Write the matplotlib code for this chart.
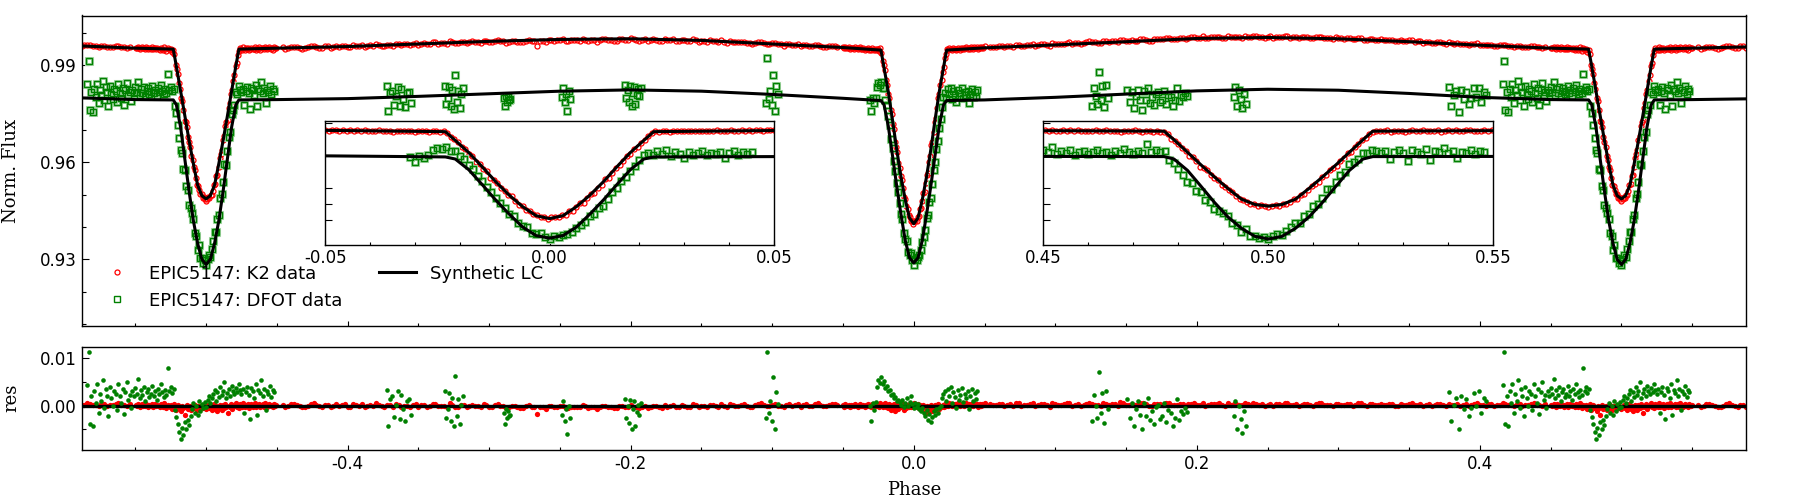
import numpy as np
import matplotlib
matplotlib.use("Agg")
import matplotlib.pyplot as plt
from matplotlib.ticker import MultipleLocator, FormatStrFormatter, NullFormatter, FixedLocator

plt.rcParams['axes.unicode_minus'] = False

# ---- synthetic light curves (one period, phase -0.5 .. 0.5) ----
# eclipse half-profiles, offset from eclipse centre
ecl_dx = [0.0, 0.003, 0.006, 0.009, 0.012, 0.015, 0.018, 0.021, 0.0232]
k2_pri = [0.9410, 0.9428, 0.9484, 0.9555, 0.9638, 0.9730, 0.9818, 0.9893, 0.9947]
k2_sec = [0.9487, 0.9497, 0.9530, 0.9596, 0.9667, 0.9742, 0.9820, 0.9897, 0.9950]
dfot_pri = [0.9289, 0.9305, 0.9358, 0.9438, 0.9525, 0.9620, 0.9712, 0.9778, 0.9791]
dfot_sec = [0.9284, 0.9300, 0.9350, 0.9420, 0.9510, 0.9610, 0.9708, 0.9778, 0.9793]

# out-of-eclipse part
ooe_phase = [-0.45, -0.40, -0.35, -0.30, -0.25, -0.20, -0.15, -0.10, -0.05,
             0.05, 0.10, 0.15, 0.20, 0.25, 0.30, 0.35, 0.40, 0.45]
k2_ooe = [0.9953, 0.9958, 0.9966, 0.9974, 0.9980, 0.9982, 0.9977, 0.9966, 0.9955,
          0.9954, 0.9963, 0.9973, 0.9983, 0.9986, 0.9982, 0.9973, 0.9962, 0.9953]
dfot_ooe = [0.9794, 0.9797, 0.9804, 0.9812, 0.9820, 0.9824, 0.9820, 0.9810, 0.9798,
            0.9793, 0.9801, 0.9811, 0.9821, 0.9826, 0.9823, 0.9813, 0.9801, 0.9794]

# ---- DFOT data: phase range of each night, residuals in units of 1e-4 ----
dfot_res_a = [-2, 12, 20, 6, 15,
              25, 34, 10, 28, 18, 40, 22, 30, 50, 15, 26, 35, 20, 42, 30, 24, 38, 28, 45, 32, 25,
              35, -15, 28, 40, 22, -28, 38, 30, 15, 45, -20, 32, 26, 55, 20, 36, -10, 30, 24, 42, 18, 34, 28]
dfot_res_b = [34, -43, 13, 20, -24, 2, 30, -29, 23, -8, -33, 10, 13, -19]
dfot_res_c = [30, -26, -8, 27, -33, 16, -43, 62, -21, 13, -40, 2, 20]
dfot_res_d = [-15, -40, -8, -27, -12, -22, -20]
dfot_res_e = [-19, 9, -33, -8, -61, 0, -26]
dfot_res_f = [14, -26, -1, -36, 11, -49, -8, 9, -43, -14, 2, -19, 6]
dfot_res_g = [-26, 113, -15, 9, -33, 60, -50, 28, 3]
dfot_res_h = [0, -33, 5, -10, 8,
              40, 55, 48, 60, 45, 52, 38, 42,
              30, 34, 22, 25, 15, 18, 10, 12,
              8, 2, 12, -3, 5, 15, 0, 8, 20, 4,
              -5, 6, -2, 3, -8, -12, -5,
              -15, -22, -10, -30, -18, -35, -25, -12, -20, -8, -15, -5, 0,
              15, 25, 30, 10, 35, 20, 40, 5, 28, 18, -5, 32, 12, 22, 38, 8, 25, 15, 30, -8,
              20, 35, 10, 26, 14, 30]
dfot_res_i = [-33, 23, -1, -26, 71, -15, 27, -36, 30, -8]
dfot_res_j = [13, -26, 5, -43, -8, 10, -19, -50, 6, -21, 16, -30, -12, -38, -4, 2, -28, -22, 5, -35,
              -9, -16, -44, -26, 13, -30, -12, -18, -5, -14]
dfot_res_k = [-22, 9, -50, -1, -29, -57, -12, -43]
dfot_res_l = [28, -33, 2, 16, -50, 20, -8, 13, -22, -5, 27, -1, 30, -15, 16, 9]
dfot_res_m = [44, 114, -38, 20, -43, 30, 5, 45, -15, 25,
              10, 55, -5, 35, 20, -22, 40, 15, 0, 30,
              25, -10, 45, 20, 5, 35, -18, 28, 50, 12, 22, -5,
              30, 20, 38, 25, 56, 15, 32, 22, 40, 10, 28, 35, 18,
              25, 42, 20, 30, 12, 36, 24, 45, 28, 18, 34, 22, 79, 30, 40, 26, 35,
              -10, -25, -40, -55, -71, -48, -62, -35, -50, -30, -42, -22,
              -8, 5, -15, 0, -20, 10, -12, 3, -5, 8]
dfot_nights = [(-0.500, -0.452, dfot_res_a), (-0.3725, -0.3555, dfot_res_b),
               (-0.3315, -0.3185, dfot_res_c), (-0.2895, -0.2850, dfot_res_d),
               (-0.2485, -0.2430, dfot_res_e), (-0.2040, -0.1930, dfot_res_f),
               (-0.1045, -0.0960, dfot_res_g), (-0.031, 0.045, dfot_res_h),
               (0.1260, 0.1370, dfot_res_i), (0.1510, 0.1930, dfot_res_j),
               (0.2260, 0.2345, dfot_res_k), (0.3780, 0.4045, dfot_res_l),
               (0.416, 0.499, dfot_res_m)]

# ---- K2 data: phase ranges, residuals in units of 1e-4 ----
k2_res_1 = [-8, -3, 2, -6, 1, -10, -4, 3, -7, 0, -12, -5, 2, -3, -9, 1, -6, 4, -2, -15,
            0, -4, 3, -7, 2, -1, 5, -3, 1, -5, 4, 0, -2, 6, -4, 2, -1, 3, -5, 1,
            4, -2, 0, 5, -3, 2, -1, 4, -4, 1, 3, -2, 5, 0, -3, 2, 4, -1, 1, -4, 3, 0, 2]
k2_res_2 = [2, -1, 3, 0, -2, 4, 1, -3, 2, 0, -1, 3, -2, 1, 4, -1, 0, 2, -3, 1,
            3, -2, 0, 1, -4, 2, -1, 3, 0, -2, 1, -3, 2, -1, 0, -4, 1, -2, 3, -1,
            -3, 0, -5, -1, -2, -17, -3, 0, -4, -1, -5, -2, -3, 1, -6, -2, -4, 0, -3, -5,
            -1, -4, -2, -6, 0, -3, -1, -5, -2, 1, -3, 0, -2, 2, -1, -4, 1, -2, 0, 3,
            -1, 2, 0, -2, 3, 1, -1, 4, 0, 2, -1, 3, 1, 0, 4, 2, -1, 3, 1]
k2_res_2b = [-2, 4, 1, -3, 0, 5, -1, 2, -4, 3, 1, -2, 4, 0, -3, 2, 5, -1, 1, -4,
             2, 0, -3, 4, 1, -2, 3, -1, 0, 5, -2, 1, -4, 2, 0, 3, -3, 1, -1, -5,
             0, -3, -6, 1, -4, -2, -7, -1, -3, 0, -6, -2, -4, -1, -3, -8, 0, -2, -5, -1,
             -4, 1, -3, -2, -6, 0, -4, 2, -1, -3, 1, -2, 3, -4, 0, 2, -1, 4, -3, 1,
             0, 3, -2, 1, 5, -1, 2, 0, -3, 4, 1, -2, 3, 0, 5, -1, 2, 4]
k2_res_3 = [1, -2, 3, 0, -1, 2, -3, 1, 0, 2, -1, 3, 0, -2, 1, 4, -1, 0, 2, -3,
            1, 0, 3, -1, 2, -2, 4, 0, 1, -1, 3, 2, -2, 5, 1, -4, 3, 6, -3, 2,
            -6, 4, -10, 1, -5, 3, -12, -2, 5, -8, 0, -4, 6, -2, -9, 3, -5, 1, -3, 4,
            -2, 2, -4, 5, 0, -3, 3, -6, 1, -10, -4, 2, -13, -6, 0, -15, -3, -8, 2, -11,
            -5, 1, -9, -3, 3, -7, 0, -4, 2, -2, 4, -1, 3, 0, 5, 2, -1, 4, 1, 3,
            0, 2, 5, -1, 3, 1, 4, 0, 2, 6, 1, 3, -1, 4, 2, 0, 5, 1, 3, -2,
            2, 4, 0, 3, 1, 5]
k2_res_4 = [3, 1, 4, 2, 0, 5, 2, 3, -1, 4, 2, 5, 1, 3, 6, 2, 0, 4, 3, 1,
            5, 2, 4, 7, 1, 3, 2, 5, 0, 4, 3, 6, 2, 1, 4, 3, 5, 2, 0, 3,
            4, 1, 5, 3, 2, 6, 1, 4, 3, 2, 0, 3, 5, 1, 4, 2, 3, 0, 5, 2,
            1, 4, 2, 3, 0, 5, 1, 3, 2, 4, 1, 3, 0, 2, 4, 1, 3, 2, 0, 3,
            2, 4, 1, 0, 3, 2, 5, 1, 3, 0, 2, 4, 1, 3, 0, 2, 5, 1, 3]
k2_res_4b = [1, 4, -1, 3, 5, 0, 2, 6, 1, 3, -2, 4, 2, 5, 0, 3, 1, 6, 2, -1,
             4, 3, 0, 5, 2, 1, 6, 3, -1, 4, 2, 5, 1, 3, 0, 4, 2, 6, 1, 3,
             5, 0, 2, 4, 1, 3, 6, 2, 0, 4, 3, 1, 5, 2, 0, 4, 1, 3, 6, 2,
             0, 3, 1, 4, 2, 5, 0, 3, 1, 2, 4, 0, 3, 1, 5, 2, -1, 3, 1, 4,
             0, 2, 3, 1, -1, 4, 2, 0, 3, 1, 5, 2, 0, 3, 1, 4, 2, 0]
k2_res_5 = [2, 0, 3, 1, -2, 4, 0, 2, -1, 3, 1, -3, 2, 0, 4, -2, 1, 3, -1, 2,
            0, -4, 3, 1, -2, 5, 0, -5, 2, -1, -3, 1, -8, -2, 3, -10, -4, 1, -6, -2,
            -12, 0, -5, -19, -3, 2, -8, -4, -1, -10, -2, -6, 1, -4, -9, 0, -3, -7, 2, -5,
            -1, -4]
k2_runs = [(-0.5000, -0.4504, k2_res_1), (-0.4460, -0.0540, k2_res_2),
           (-0.4440, -0.0560, k2_res_2b), (-0.0500, 0.0500, k2_res_3),
           (0.0540, 0.4460, k2_res_4), (0.0560, 0.4440, k2_res_4b),
           (0.4504, 0.4992, k2_res_5)]


def build_model(pri, sec, ooe):
    dx = np.array(ecl_dx)
    ph = np.concatenate([-0.5 + dx, 0.5 - dx, -dx, dx, ooe_phase])
    fl = np.concatenate([sec, sec, pri, pri, ooe])
    ph, idx = np.unique(ph, return_index=True)
    return ph, fl[idx]


def collect(runs):
    ph, res = [], []
    for start, stop, r in runs:
        ph.append(np.linspace(start, stop, len(r)))
        res.append(np.array(r) * 1e-4)
    return np.concatenate(ph), np.concatenate(res)


def unfold(ph, y):
    # repeat one period on both sides, as in the phase-folded plot
    return np.concatenate([ph - 1, ph, ph + 1]), np.concatenate([y, y, y])


k2_mph, k2_mfl = build_model(k2_pri, k2_sec, k2_ooe)
df_mph, df_mfl = build_model(dfot_pri, dfot_sec, dfot_ooe)

k2_ph, k2_res = collect(k2_runs)
df_ph, df_res = collect(dfot_nights)
k2_fl = np.interp(k2_ph, k2_mph, k2_mfl) + k2_res
df_fl = np.interp(df_ph, df_mph, df_mfl) + df_res

k2_x, k2_y = unfold(k2_ph, k2_fl)
_, k2_r = unfold(k2_ph, k2_res)
df_x, df_y = unfold(df_ph, df_fl)
_, df_r = unfold(df_ph, df_res)
k2_lx, k2_ly = unfold(k2_mph, k2_mfl)
df_lx, df_ly = unfold(df_mph, df_mfl)

fig = plt.figure(figsize=(18, 5), dpi=100)
ax = fig.add_axes([0.0453, 0.348, 0.9247, 0.621])
axr = fig.add_axes([0.0453, 0.100, 0.9247, 0.207])
ins1 = fig.add_axes([0.1806, 0.511, 0.2494, 0.248])
ins2 = fig.add_axes([0.5797, 0.511, 0.2500, 0.248])

for a in (ax, ins1, ins2):
    a.plot(k2_x, k2_y, 'o', ms=3.6, mfc='none', mec='red', mew=0.9, label='EPIC5147: K2 data')
    # soft halo under the DFOT squares
    a.plot(df_x, df_y, 's', ms=4.3, mfc='none', mec='#a8d8a8', mew=2.2)
    a.plot(df_x, df_y, 's', ms=4.3, mfc='none', mec='green', mew=1.0, label='EPIC5147: DFOT data')
    a.plot(k2_lx, k2_ly, '-', color='black', lw=2.2, label='Synthetic LC')
    a.plot(df_lx, df_ly, '-', color='black', lw=2.2)

ax.set_xlim(-0.588, 0.588)
ax.set_ylim(0.9094, 1.0054)
ax.yaxis.set_major_locator(MultipleLocator(0.03))
ax.yaxis.set_minor_locator(MultipleLocator(0.01))
ax.yaxis.set_major_formatter(FormatStrFormatter('%.2f'))
ax.xaxis.set_major_locator(MultipleLocator(0.2))
ax.xaxis.set_minor_locator(MultipleLocator(0.05))
ax.xaxis.set_major_formatter(NullFormatter())
ax.set_ylabel('Norm. Flux', family='DejaVu Serif', fontsize=13)
ax.yaxis.set_label_coords(-0.037, 0.5)
ax.legend(loc='lower left', ncol=2, frameon=False, fontsize=13,
          handlelength=2.1, handletextpad=0.74, columnspacing=2.0)

for a, lim in ((ins1, (-0.05, 0.05)), (ins2, (0.45, 0.55))):
    a.set_xlim(*lim)
    a.set_ylim(0.925, 1.0016)
    a.xaxis.set_major_locator(MultipleLocator(0.05))
    a.xaxis.set_minor_locator(MultipleLocator(0.01))
    a.xaxis.set_major_formatter(FormatStrFormatter('%.2f'))
    a.yaxis.set_major_locator(FixedLocator([0.94, 0.95, 0.96, 1.00]))
    a.yaxis.set_major_formatter(NullFormatter())

# residuals
axr.plot(k2_x, k2_r, 'o', ms=3.8, mew=0, color='red')
axr.axhline(0, color='black', lw=2.4)
axr.plot(df_x, df_r, 'o', ms=3.3, mew=0, color='green')
axr.set_xlim(-0.588, 0.588)
axr.set_ylim(-0.0094, 0.0125)
axr.xaxis.set_major_locator(MultipleLocator(0.2))
axr.xaxis.set_minor_locator(MultipleLocator(0.05))
axr.xaxis.set_major_formatter(FormatStrFormatter('%.1f'))
axr.yaxis.set_major_locator(MultipleLocator(0.01))
axr.yaxis.set_minor_locator(MultipleLocator(0.005))
axr.yaxis.set_major_formatter(FormatStrFormatter('%.2f'))
axr.set_ylabel('res', family='DejaVu Serif', fontsize=13)
axr.yaxis.set_label_coords(-0.037, 0.5)
axr.set_xlabel('Phase', family='DejaVu Serif', fontsize=13)
axr.xaxis.set_label_coords(0.5, -0.30)

for a in (ax, axr, ins1, ins2):
    a.tick_params(which='both', direction='in', top=False, right=False, labelsize=12, width=0.8)
    a.tick_params(axis='x', which='major', length=3.3)
    a.tick_params(axis='x', which='minor', length=2.0)
    a.tick_params(axis='y', which='major', length=4.8)
    a.tick_params(axis='y', which='minor', length=3.2)
    for s in a.spines.values():
        s.set_linewidth(1.0)

fig.savefig('out.png', dpi=100)
